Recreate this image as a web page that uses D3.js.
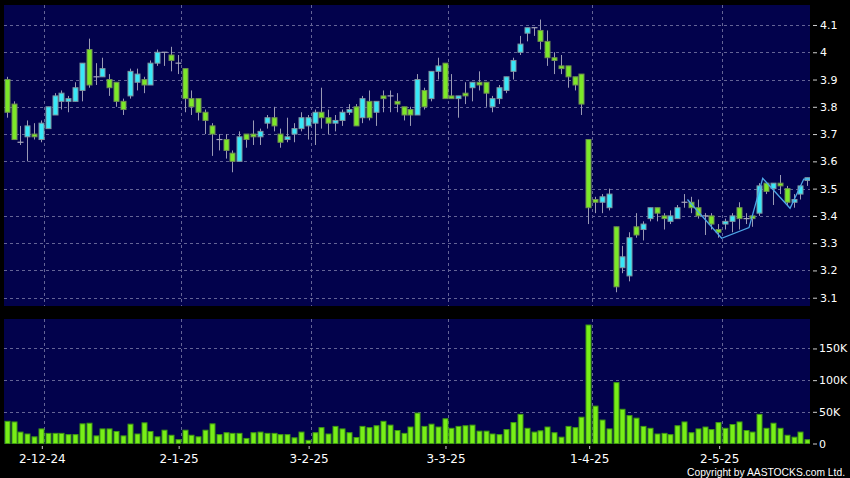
<!DOCTYPE html>
<html><head><meta charset="utf-8">
<script src="https://cdn.jsdelivr.net/npm/d3@7"></script>
<style>html,body{margin:0;padding:0;background:#000;} svg{display:block;}</style>
</head><body>
<svg id="chart" width="850" height="478"></svg>
<script>
const dates = [
"2024-11-22","2024-11-25","2024-11-26","2024-11-27","2024-11-28","2024-11-29",
"2024-12-02","2024-12-03","2024-12-04","2024-12-05","2024-12-06","2024-12-09","2024-12-10","2024-12-11","2024-12-12","2024-12-13",
"2024-12-16","2024-12-17","2024-12-18","2024-12-19","2024-12-20","2024-12-23","2024-12-24","2024-12-27","2024-12-30","2024-12-31",
"2025-01-02","2025-01-03","2025-01-06","2025-01-07","2025-01-08","2025-01-09","2025-01-10","2025-01-13","2025-01-14","2025-01-15",
"2025-01-16","2025-01-17","2025-01-20","2025-01-21","2025-01-22","2025-01-23","2025-01-24","2025-01-27","2025-01-28",
"2025-02-03","2025-02-04","2025-02-05","2025-02-06","2025-02-07","2025-02-10","2025-02-11","2025-02-12","2025-02-13","2025-02-14",
"2025-02-17","2025-02-18","2025-02-19","2025-02-20","2025-02-21","2025-02-24","2025-02-25","2025-02-26","2025-02-27","2025-02-28",
"2025-03-03","2025-03-04","2025-03-05","2025-03-06","2025-03-07","2025-03-10","2025-03-11","2025-03-12","2025-03-13","2025-03-14",
"2025-03-17","2025-03-18","2025-03-19","2025-03-20","2025-03-21","2025-03-24","2025-03-25","2025-03-26","2025-03-27","2025-03-28","2025-03-31",
"2025-04-01","2025-04-02","2025-04-03","2025-04-07","2025-04-08","2025-04-09","2025-04-10","2025-04-11","2025-04-14","2025-04-15",
"2025-04-16","2025-04-17","2025-04-22","2025-04-23","2025-04-24","2025-04-25","2025-04-28","2025-04-29","2025-04-30",
"2025-05-02","2025-05-06","2025-05-07","2025-05-08","2025-05-09","2025-05-12","2025-05-13","2025-05-14","2025-05-15","2025-05-16",
"2025-05-19","2025-05-20","2025-05-21"];

const open = [3.90,3.81,3.67,3.69,3.70,3.68,3.72,3.77,3.82,3.82, 3.82,3.86,4.01,3.91,3.91,3.90,3.89,3.82,3.84,3.89,
 3.90,3.88,3.96,4.00,3.99,3.96,3.94,3.83,3.83,3.78, 3.73,3.68,3.68,3.63,3.60,3.70,3.70,3.69,3.74,3.76,
 3.70,3.68,3.70,3.72,3.73,3.74,3.78,3.76,3.74,3.75, 3.78,3.80,3.76,3.82,3.78,3.84,3.84,3.82,3.80,3.79,
 3.77,3.86,3.83,3.93,3.96,3.84,3.83,3.85,3.87,3.89, 3.89,3.80,3.83,3.86,3.93,4.00,4.07,4.09,4.08,4.04,
 3.98,3.95,3.95,3.91,3.92,3.68,3.46,3.45,3.43,3.36, 3.21,3.18,3.36,3.35,3.39,3.43,3.40,3.38,3.39,3.45,
 3.45,3.43,3.40,3.40,3.35,3.37,3.38,3.43,3.39,3.40, 3.41,3.52,3.50,3.52,3.50,3.45,3.48,3.53];
const high = [3.91,3.82,3.73,3.75,3.74,3.75,3.80,3.85,3.86,3.84, 3.89,3.96,4.05,3.96,3.98,3.92,3.89,3.83,3.94,3.94,
 3.91,3.97,4.01,4.00,4.02,3.99,3.94,3.86,3.83,3.79, 3.74,3.70,3.70,3.64,3.71,3.70,3.75,3.72,3.77,3.80,
 3.72,3.76,3.74,3.78,3.77,3.79,3.87,3.79,3.77,3.79, 3.81,3.81,3.84,3.86,3.82,3.86,3.86,3.85,3.80,3.80,
 3.92,3.87,3.93,3.98,3.96,3.92,3.84,3.89,3.89,3.93, 3.89,3.84,3.88,3.91,3.98,4.06,4.09,4.09,4.12,4.08,
 4.00,3.99,3.95,3.91,3.92,3.68,3.47,3.48,3.50,3.36, 3.29,3.34,3.41,3.38,3.43,3.43,3.41,3.42,3.44,3.48,
 3.47,3.46,3.41,3.41,3.37,3.39,3.41,3.45,3.41,3.40, 3.52,3.52,3.52,3.55,3.51,3.48,3.51,3.54];
const low = [3.76,3.68,3.66,3.60,3.68,3.67,3.72,3.77,3.79,3.78, 3.82,3.82,3.87,3.88,3.91,3.84,3.80,3.77,3.83,3.86,
 3.85,3.88,3.95,3.95,3.93,3.92,3.78,3.77,3.75,3.70, 3.62,3.64,3.61,3.56,3.60,3.65,3.66,3.66,3.72,3.71,
 3.65,3.67,3.67,3.71,3.68,3.66,3.72,3.70,3.71,3.73, 3.77,3.73,3.74,3.75,3.73,3.78,3.78,3.78,3.75,3.73,
 3.77,3.79,3.82,3.90,3.83,3.83,3.76,3.81,3.82,3.86, 3.80,3.78,3.81,3.85,3.90,3.99,4.04,4.06,4.01,3.95,
 3.92,3.92,3.87,3.86,3.77,3.37,3.41,3.41,3.42,3.12, 3.19,3.16,3.32,3.31,3.38,3.38,3.35,3.37,3.39,3.43,
 3.41,3.39,3.33,3.35,3.32,3.35,3.34,3.35,3.37,3.36, 3.40,3.48,3.44,3.48,3.44,3.43,3.46,3.51];
const close = [3.78,3.68,3.67,3.73,3.69,3.74,3.80,3.84,3.85,3.83, 3.87,3.96,3.88,3.91,3.94,3.87,3.82,3.79,3.93,3.92,
 3.88,3.96,4.00,4.00,3.97,3.96,3.83,3.80,3.78,3.75, 3.70,3.68,3.64,3.60,3.69,3.68,3.69,3.71,3.76,3.73,
 3.67,3.69,3.72,3.76,3.76,3.78,3.76,3.74,3.75,3.78, 3.79,3.73,3.83,3.76,3.82,3.83,3.84,3.81,3.77,3.77,
 3.90,3.80,3.93,3.95,3.83,3.83,3.84,3.84,3.89,3.88, 3.85,3.83,3.87,3.91,3.97,4.03,4.09,4.09,4.04,3.98,
 3.97,3.94,3.91,3.88,3.81,3.43,3.45,3.47,3.48,3.14, 3.25,3.32,3.33,3.37,3.43,3.41,3.39,3.40,3.43,3.45,
 3.43,3.40,3.40,3.37,3.34,3.38,3.40,3.39,3.39,3.39, 3.51,3.49,3.52,3.51,3.45,3.46,3.51,3.54];
const volume = [35000,34000,18000,15000,10500,23000,16000,16000,16000,14000, 14000,31000,32000,12000,23000,23000,19000,12000,30500,15000,
 32600,19000,10500,21000,13000,6000,21000,13000,10500,21000, 31000,14000,17000,16000,16000,8000,17000,18000,16000,16000,
 14000,14000,9000,18000,5000,17000,25000,15000,27000,23000, 17000,9500,27000,25000,28000,35000,29000,20500,16000,26000,
 48000,27000,30500,26000,39000,24000,27000,28000,29000,19500, 19500,15000,14000,22000,33000,46000,24000,18000,20000,26000,
 17000,10000,27000,25000,41500,187000,59000,37000,23000,96000, 54000,44000,40000,27000,24000,15000,16000,14000,28000,34000,
 17000,23000,26000,22000,33000,24000,30000,34000,20500,18000, 46000,24000,32000,24000,13000,10000,18000,6000];

const priceTicks = [3.1,3.2,3.3,3.4,3.5,3.6,3.7,3.8,3.9,4.0,4.1];
const priceTickLabels = ["3.1","3.2","3.3","3.4","3.5","3.6","3.7","3.8","3.9","4","4.1"];
const volTicks = [0,50000,100000,150000];
const volTickLabels = ["0","50K","100K","150K"];
const dateTicks = ["2024-12-02","2025-01-02","2025-02-03","2025-03-03","2025-04-01","2025-05-02"];
const dateTickLabels = ["2-12-24","2-1-25","3-2-25","3-3-25","1-4-25","2-5-25"];
// zigzag overlay: vertex dates and prices
const zigDates = ["2025-04-24","2025-05-02","2025-05-09","2025-05-13","2025-05-19","2025-05-21"];
const zigValues = [3.46,3.318,3.357,3.538,3.428,3.535];

const svg = d3.select("#chart");
const W = 850, H = 478;
const plotL = 4, plotR = 810;
const pTop = 5, pBot = 306, vTop = 319, vBot = 444;
const FONT = "DejaVu Sans, Verdana, sans-serif";

svg.append("rect").attr("width", W).attr("height", H).attr("fill", "#000");

const x = d3.scaleBand().domain(dates).range([3.25, 3.25 + dates.length * 6.842]).padding(0);
const bw = x.bandwidth();
const cx = d => x(d) + bw / 2;
const y = d3.scaleLinear().domain([3.0696, 4.1733]).range([pBot, pTop]);
const yv = d3.scaleLinear().domain([0, 196500]).range([443.5, vTop]);

const NAVY = "#02024c";
const GRID = "#646496";

const defs = svg.append("defs");
defs.append("clipPath").attr("id", "cp").append("rect").attr("x", plotL).attr("y", pTop).attr("width", plotR - plotL).attr("height", pBot - pTop);
defs.append("clipPath").attr("id", "cv").append("rect").attr("x", plotL).attr("y", vTop).attr("width", plotR - plotL).attr("height", vBot - vTop);

svg.append("rect").attr("x", plotL).attr("y", pTop).attr("width", plotR - plotL).attr("height", pBot - pTop).attr("fill", NAVY);
svg.append("rect").attr("x", plotL).attr("y", vTop).attr("width", plotR - plotL).attr("height", vBot - vTop).attr("fill", NAVY);

// grid lines
const gp = svg.append("g").attr("clip-path", "url(#cp)");
gp.selectAll("line.h").data(priceTicks).join("line")
  .attr("x1", plotL).attr("x2", plotR).attr("y1", d => Math.round(y(d)) + 0.5).attr("y2", d => Math.round(y(d)) + 0.5)
  .attr("stroke", GRID).attr("stroke-dasharray", "3,3").attr("stroke-width", 1);
gp.selectAll("line.v").data(dateTicks).join("line")
  .attr("x1", d => Math.round(x(d)) + 0.5).attr("x2", d => Math.round(x(d)) + 0.5).attr("y1", pTop).attr("y2", pBot)
  .attr("stroke", GRID).attr("stroke-dasharray", "3,3").attr("stroke-width", 1);

const gv = svg.append("g").attr("clip-path", "url(#cv)");
gv.selectAll("line.h").data(volTicks.slice(1)).join("line")
  .attr("x1", plotL).attr("x2", plotR).attr("y1", d => Math.round(yv(d)) + 0.5).attr("y2", d => Math.round(yv(d)) + 0.5)
  .attr("stroke", GRID).attr("stroke-dasharray", "3,3").attr("stroke-width", 1);
gv.selectAll("line.v").data(dateTicks).join("line")
  .attr("x1", d => Math.round(x(d)) + 0.5).attr("x2", d => Math.round(x(d)) + 0.5).attr("y1", vTop).attr("y2", vBot)
  .attr("stroke", GRID).attr("stroke-dasharray", "3,3").attr("stroke-width", 1);

// candles
const candles = dates.map((d, i) => ({d, o: open[i], h: high[i], l: low[i], c: close[i], v: volume[i]}));
const UP = "#38e8f8", DOWN = "#7ce828";
const cg = gp.append("g");
cg.selectAll("line.wick").data(candles).join("line")
  .attr("x1", d => Math.round(cx(d.d)) + 0.5).attr("x2", d => Math.round(cx(d.d)) + 0.5)
  .attr("y1", d => y(d.h)).attr("y2", d => y(d.l))
  .attr("stroke", "#9a9ab4").attr("stroke-width", 1);
cg.selectAll("rect.body").data(candles.filter(d => d.c !== d.o)).join("rect")
  .attr("x", d => Math.round(cx(d.d)) - 2).attr("width", 5)
  .attr("y", d => y(Math.max(d.o, d.c)))
  .attr("height", d => Math.max(1, Math.abs(y(d.o) - y(d.c))))
  .attr("fill", d => d.c > d.o ? UP : DOWN)
  .attr("stroke", d => d.c > d.o ? "#7f96a0" : "#6f8f52").attr("stroke-width", 1);
cg.selectAll("line.doji").data(candles.filter(d => d.c === d.o)).join("line")
  .attr("x1", d => Math.round(cx(d.d)) - 2.5).attr("x2", d => Math.round(cx(d.d)) + 3.5)
  .attr("y1", d => y(d.c)).attr("y2", d => y(d.c))
  .attr("stroke", "#a8a8bc").attr("stroke-width", 1.2);

// zigzag overlay
const zigPts = zigDates.map((d, i) => [x(d), y(zigValues[i])]);
zigPts.push([x(zigDates[zigDates.length - 1]) + bw - 1, y(zigValues[zigValues.length - 1])]);
gp.append("path").attr("d", d3.line()(zigPts)).attr("fill", "none")
  .attr("stroke", "#4ea6e6").attr("stroke-width", 1.3);

// volume bars
gv.selectAll("rect.vol").data(candles).join("rect")
  .attr("x", d => Math.round(cx(d.d)) - 2).attr("width", 5)
  .attr("y", d => yv(d.v)).attr("height", d => yv(0) - yv(d.v))
  .attr("fill", "#78ee18").attr("stroke", "#3f9a12").attr("stroke-width", 1);

// axes
function styleAxis(size) {
  return g => {
    g.select(".domain").remove();
    g.selectAll(".tick line").attr("stroke", "#cfcfcf");
    g.selectAll(".tick text").attr("fill", "#fff").attr("font-family", FONT).attr("font-size", size);
  };
}
svg.append("g").attr("transform", `translate(${plotR + 3},0)`)
  .call(d3.axisRight(y).tickValues(priceTicks).tickFormat((d, i) => priceTickLabels[i]).tickSize(4).tickPadding(3))
  .call(styleAxis("11px"));
svg.append("g").attr("transform", `translate(${plotR + 3},0)`)
  .call(d3.axisRight(yv).tickValues(volTicks).tickFormat((d, i) => volTickLabels[i]).tickSize(4).tickPadding(2))
  .call(styleAxis("11px"));
svg.append("g").attr("transform", `translate(${-bw / 2 - 2},${vBot + 2})`)
  .call(d3.axisBottom(x).tickValues(dateTicks).tickFormat((d, i) => dateTickLabels[i]).tickSize(3).tickPadding(5))
  .call(styleAxis("12px"));

svg.append("text").attr("x", 687).attr("y", 476).attr("text-anchor", "start")
  .attr("fill", "#fff").attr("font-family", "Liberation Sans, Arial, sans-serif").attr("font-size", "10.5px")
  .attr("textLength", 158).attr("lengthAdjust", "spacingAndGlyphs")
  .text("Copyright by AASTOCKS.com Ltd.");
</script>
</body></html>
